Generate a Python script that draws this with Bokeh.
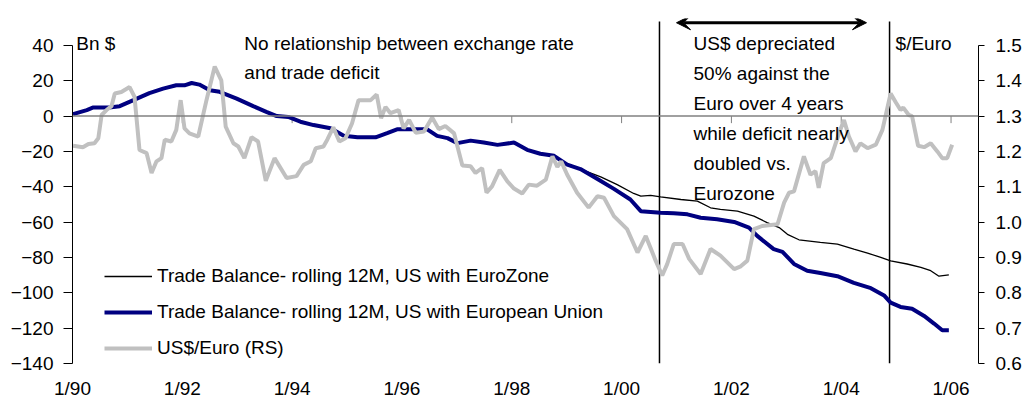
from bokeh.plotting import figure
from bokeh.models import (Range1d, LinearAxis, Span, Label, Legend, LegendItem,
                          FixedTicker, Arrow, VeeHead, NumeralTickFormatter)
from bokeh.embed import file_html
from bokeh.resources import INLINE

FONT = "Liberation Sans"
FS = "19px"

# Trade balance, rolling 12M, US with European Union (Bn $)
eu_dates = [1990.01, 1990.26, 1990.38, 1990.67, 1990.86, 1991.11, 1991.40, 1991.65, 1991.89,
            1992.04, 1992.17, 1992.31, 1992.50, 1992.68, 1992.99, 1993.29, 1993.53, 1993.72,
            1993.93, 1994.15, 1994.39, 1994.70, 1994.94, 1995.19, 1995.52, 1995.73, 1995.91,
            1996.46, 1996.64, 1996.83, 1997.01, 1997.25, 1997.49, 1997.74, 1998.04, 1998.28,
            1998.52, 1998.77, 1999.01, 1999.25, 1999.56, 1999.86, 2000.16, 2000.35, 2000.71,
            2000.95, 2001.20, 2001.44, 2001.74, 2002.05, 2002.32, 2002.47, 2002.77, 2002.93,
            2003.14, 2003.38, 2003.62, 2003.93, 2004.23, 2004.54, 2004.78, 2004.90, 2005.08,
            2005.29, 2005.51, 2005.69, 2005.84, 2005.96]
eu_vals = [1.1, 3.4, 4.9, 4.9, 5.6, 9.0, 13.0, 15.5, 17.4,
           17.4, 18.7, 17.8, 14.6, 13.7, 9.9, 5.6, 2.4, 0.0,
           -0.5, -3.2, -5.1, -6.9, -11.2, -12.0, -12.0, -9.7, -7.5,
           -7.5, -11.2, -12.5, -15.3, -13.9, -15.0, -16.3, -15.0, -19.1,
           -21.3, -22.5, -27.5, -30.0, -35.6, -41.2, -47.2, -53.8, -54.7,
           -55.0, -55.6, -57.5, -58.4, -59.9, -63.1, -67.8, -75.3, -76.8,
           -83.7, -87.5, -88.8, -90.6, -94.4, -97.4, -101.5, -105.6, -108.0,
           -109.0, -113.1, -117.4, -121.2, -121.2]

# Trade balance, rolling 12M, US with EuroZone (Bn $)
ez_dates = [1990.01, 1990.26, 1990.38, 1990.67, 1990.86, 1991.11, 1991.40, 1991.65, 1991.89,
            1992.04, 1992.17, 1992.31, 1992.50, 1992.68, 1992.99, 1993.29, 1993.53, 1993.72,
            1993.93, 1994.15, 1994.39, 1994.70, 1994.94, 1995.19, 1995.52, 1995.73, 1995.91,
            1996.46, 1996.64, 1996.83, 1997.01, 1997.25, 1997.49, 1997.74, 1998.04, 1998.28,
            1998.52, 1998.77, 1999.01, 1999.25, 1999.62, 1999.92, 2000.22, 2000.35, 2000.53,
            2000.71, 2001.08, 2001.38, 2001.62, 2001.80, 2002.11, 2002.41, 2002.65, 2002.87,
            2003.02, 2003.23, 2003.62, 2003.93, 2004.23, 2004.48, 2004.72, 2004.90, 2005.20,
            2005.45, 2005.63, 2005.78, 2005.96]
ez_vals = [1.1, 3.4, 4.9, 4.9, 5.6, 9.0, 13.0, 15.5, 17.4,
           17.4, 18.7, 17.8, 14.6, 13.7, 9.9, 5.6, 2.4, 0.0,
           -0.5, -3.2, -5.1, -6.9, -11.2, -12.0, -12.0, -9.7, -7.5,
           -7.5, -11.2, -12.5, -15.3, -13.9, -15.0, -16.3, -15.0, -19.1,
           -21.3, -22.5, -27.5, -30.0, -34.4, -38.8, -43.8, -45.3, -44.9,
           -45.7, -47.2, -48.1, -51.9, -52.8, -53.8, -56.6, -60.3, -63.1,
           -66.9, -70.0, -71.5, -72.5, -75.3, -77.5, -80.0, -81.9, -83.7,
           -85.6, -87.5, -90.6, -89.9]

# US$ per Euro (right scale)
fx_dates = [1990.01, 1990.19, 1990.29, 1990.40, 1990.47, 1990.53, 1990.62, 1990.71, 1990.77,
            1990.89, 1991.04, 1991.13, 1991.22, 1991.35, 1991.44, 1991.53, 1991.62, 1991.68,
            1991.80, 1991.89, 1991.97, 1992.04, 1992.13, 1992.29, 1992.44, 1992.59, 1992.71,
            1992.79, 1992.93, 1993.02, 1993.13, 1993.26, 1993.38, 1993.52, 1993.68, 1993.90,
            1994.08, 1994.21, 1994.34, 1994.43, 1994.57, 1994.64, 1994.75, 1994.86, 1994.97,
            1995.09, 1995.21, 1995.43, 1995.54, 1995.62, 1995.70, 1995.79, 1995.94, 1996.03,
            1996.13, 1996.25, 1996.40, 1996.55, 1996.67, 1996.79, 1996.95, 1997.10, 1997.25,
            1997.34, 1997.46, 1997.54, 1997.64, 1997.78, 1997.92, 1998.04, 1998.19, 1998.31,
            1998.46, 1998.62, 1998.74, 1998.83, 1998.90, 1999.01, 1999.19, 1999.40, 1999.56,
            1999.68, 1999.86, 2000.10, 2000.29, 2000.44, 2000.62, 2000.74, 2000.83, 2000.95,
            2001.11, 2001.23, 2001.44, 2001.62, 2001.80, 2002.05, 2002.17, 2002.29, 2002.41,
            2002.56, 2002.84, 2002.96, 2003.05, 2003.14, 2003.32, 2003.44, 2003.53, 2003.59,
            2003.68, 2003.81, 2003.96, 2004.05, 2004.14, 2004.26, 2004.35, 2004.48, 2004.63,
            2004.75, 2004.90, 2004.99, 2005.08, 2005.13, 2005.23, 2005.29, 2005.40, 2005.51,
            2005.63, 2005.75, 2005.84, 2005.93, 2006.02]
fx_vals = [1.216, 1.212, 1.221, 1.223, 1.237, 1.303, 1.317, 1.328, 1.364,
           1.368, 1.382, 1.354, 1.204, 1.195, 1.139, 1.172, 1.181, 1.233,
           1.228, 1.261, 1.345, 1.265, 1.251, 1.242, 1.345, 1.440, 1.401,
           1.270, 1.223, 1.214, 1.181, 1.240, 1.228, 1.117, 1.181, 1.125,
           1.130, 1.162, 1.172, 1.209, 1.214, 1.233, 1.268, 1.228, 1.237,
           1.279, 1.345, 1.345, 1.361, 1.294, 1.326, 1.308, 1.317, 1.265,
           1.289, 1.253, 1.256, 1.296, 1.263, 1.272, 1.251, 1.160, 1.158,
           1.139, 1.153, 1.083, 1.101, 1.148, 1.115, 1.095, 1.081, 1.106,
           1.103, 1.120, 1.186, 1.156, 1.172, 1.134, 1.083, 1.041, 1.073,
           1.069, 1.017, 0.980, 0.914, 0.961, 0.891, 0.849, 0.881, 0.938,
           0.938, 0.896, 0.853, 0.924, 0.905, 0.867, 0.875, 0.891, 0.980,
           0.989, 0.994, 1.055, 1.083, 1.087, 1.186, 1.134, 1.144, 1.097,
           1.167, 1.181, 1.251, 1.289, 1.242, 1.200, 1.223, 1.209, 1.219,
           1.261, 1.364, 1.340, 1.317, 1.324, 1.303, 1.300, 1.216, 1.212,
           1.223, 1.200, 1.181, 1.181, 1.219]

x_ticks = [1990, 1992, 1994, 1996, 1998, 2000, 2002, 2004, 2006]
x_labels = ["1/90", "1/92", "1/94", "1/96", "1/98", "1/00", "1/02", "1/04", "1/06"]
left_ticks = [-140, -120, -100, -80, -60, -40, -20, 0, 20, 40]
right_ticks = [0.6, 0.7, 0.8, 0.9, 1.0, 1.1, 1.2, 1.3, 1.4, 1.5]

marker_dates = [2000.69, 2004.88]
arrow_from, arrow_to = 2001.00, 2004.46

Y_TOP = 55.2
p = figure(width=1027, height=401, output_backend="svg", toolbar_location=None,
           x_range=Range1d(1990, 2006.5), y_range=Range1d(-140, Y_TOP),
           min_border_left=72, min_border_right=49, min_border_top=18, min_border_bottom=36)
p.extra_y_ranges = {"fx": Range1d(0.6, 1.3 + Y_TOP / 200.0)}
p.outline_line_color = None
p.xgrid.visible = False
p.ygrid.visible = False

ya = p.yaxis[0]
ya.ticker = FixedTicker(ticks=left_ticks)
ya.bounds = (-140, 40)
ya.major_tick_out = 9
ya.major_tick_in = 0
ya.minor_tick_line_color = None
ya.axis_line_color = "black"
ya.major_tick_line_color = "black"
ya.major_label_standoff = 10
ya.major_label_text_font = FONT
ya.major_label_text_font_size = FS
ya.major_label_text_color = "black"

xa = p.xaxis[0]
xa.ticker = FixedTicker(ticks=x_ticks)
xa.major_label_overrides = {t: l for t, l in zip(x_ticks, x_labels)}
xa.axis_line_color = None
xa.major_tick_line_color = None
xa.minor_tick_line_color = None
xa.major_label_standoff = 8
xa.major_label_text_font = FONT
xa.major_label_text_font_size = FS
xa.major_label_text_color = "black"

ra = LinearAxis(y_range_name="fx", ticker=FixedTicker(ticks=right_ticks), bounds=(0.6, 1.5),
                formatter=NumeralTickFormatter(format="0.0"))
ra.major_tick_out = 6
ra.major_tick_in = 0
ra.minor_tick_line_color = None
ra.axis_line_color = "black"
ra.major_tick_line_color = "black"
ra.major_label_standoff = 11
ra.major_label_text_font = FONT
ra.major_label_text_font_size = FS
ra.major_label_text_color = "black"
p.add_layout(ra, "right")

p.add_layout(Span(location=0, dimension="width", line_color="#808080", line_width=1.5))
p.segment(x0=x_ticks[1:], y0=0, x1=x_ticks[1:], y1=-4, line_color="#808080", line_width=1)

p.segment(x0=marker_dates, y0=-140, x1=marker_dates, y1=53.5, line_color="black", line_width=1.5)

r_ez = p.line(ez_dates, ez_vals, line_color="black", line_width=1.3)
r_eu = p.line(eu_dates, eu_vals, line_color="#000080", line_width=4)
r_fx = p.line(fx_dates, fx_vals, line_color="#C0C0C0", line_width=4, y_range_name="fx")

p.add_layout(Arrow(x_start=arrow_from, y_start=52.8, x_end=arrow_to, y_end=52.8,
                   line_width=3, line_color="black",
                   start=VeeHead(size=14, fill_color="black", line_color="black"),
                   end=VeeHead(size=14, fill_color="black", line_color="black")))

def add_text(x, y, txt):
    p.add_layout(Label(x=x, y=y, text=txt, text_font=FONT, text_font_size=FS,
                       text_baseline="middle", text_color="black"))

add_text(1990.07, 41.0, "Bn $")
add_text(2004.99, 41.0, "$/Euro")
note1 = ["No relationship between exchange rate", "and trade deficit"]
for i, t in enumerate(note1):
    add_text(1993.13, 41.0 - i * 16.6, t)
note2 = ["US$ depreciated", "50% against the", "Euro over 4 years",
         "while deficit nearly", "doubled vs.", "Eurozone"]
for i, t in enumerate(note2):
    add_text(2001.31, 41.0 - i * 17.0, t)

legend = Legend(items=[
    LegendItem(label="Trade Balance- rolling 12M, US with EuroZone", renderers=[r_ez]),
    LegendItem(label="Trade Balance- rolling 12M, US with European Union", renderers=[r_eu]),
    LegendItem(label="US$/Euro (RS)", renderers=[r_fx]),
], location=(32, 4), glyph_width=48, glyph_height=20, label_standoff=5, spacing=14,
    padding=0, margin=0, border_line_color=None, background_fill_alpha=0,
    label_text_font=FONT, label_text_font_size=FS, label_text_color="black")
p.add_layout(legend)

open("out.html", "w").write(file_html(p, INLINE))
